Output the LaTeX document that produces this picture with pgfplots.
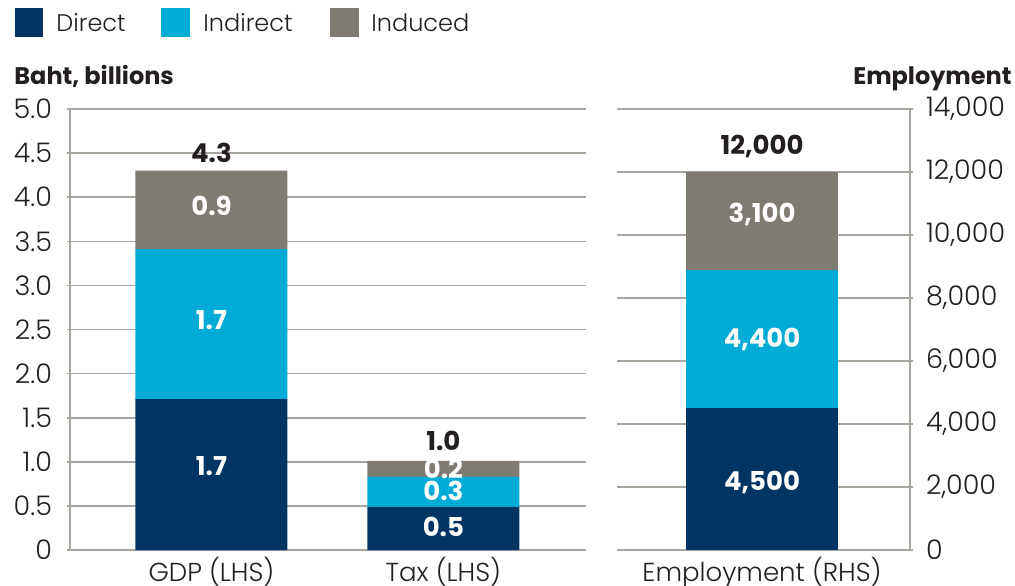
\documentclass[border=0pt]{standalone}
\usepackage{pgfplots}
\pgfplotsset{compat=1.18}
\usepackage{fontspec}
\setmainfont{Poppins}
\newfontfamily\lightfont{Poppins Light}
\definecolor{cdirect}{HTML}{003462}
\definecolor{cindirect}{HTML}{00ABD6}
\definecolor{cinduced}{HTML}{7F7A72}
\definecolor{cgrid}{HTML}{A8A49E}
\definecolor{ctext}{HTML}{231F20}
\tikzset{
  lab/.style={font=\bfseries\fontsize{13}{15}\selectfont, text=white, anchor=center, text depth=0pt, inner sep=0pt},
  tot/.style={font=\bfseries\fontsize{13}{15}\selectfont, text=ctext, anchor=center, text depth=0pt, inner sep=0pt},
}
\begin{document}
\begin{tikzpicture}
\useasboundingbox (0,0) rectangle (507.5pt,292.5pt);
\pgfplotsset{
  common/.style={
    scale only axis,
    height=220.5pt,
    ymin=0,
    ybar stacked,
    bar width=76pt,
    axis x line=bottom,
    ymajorgrids,
    grid style={cgrid,line width=0.8pt},
    tick style={cgrid,line width=0.8pt},
    tick align=outside,
    major tick length=3pt,
    xtick style={draw=none},
    extra x tick style={tick style={draw=cgrid,line width=0.8pt}, major tick length=3.5pt},
    extra x tick labels={},
    ticklabel style={font=\lightfont\fontsize{13.5}{15}\selectfont, text=ctext},
    xticklabel style={font=\lightfont\fontsize{13}{15}\selectfont, text=ctext, anchor=base, yshift=-12.8pt},
    clip=false,
  },
}
% Left axis
\begin{axis}[common,
  at={(35pt,17.5pt)}, anchor=south west,
  width=258pt,
  xmin=-0.61, xmax=1.615,
  ymax=5,
  axis y line=left,
  axis line style={-,cgrid,line width=0.8pt},
  xtick={0,1}, xticklabels={GDP (LHS), Tax (LHS)},
  extra x ticks={-0.61,1.615},
  ytick={0,0.5,...,5},
  yticklabels={0,0.5,1.0,1.5,2.0,2.5,3.0,3.5,4.0,4.5,5.0},
  yticklabel style={anchor=east, xshift=-4pt},
]
\addplot[fill=cdirect, draw=none] coordinates {(0,1.71) (1,0.49)};
\addplot[fill=cindirect, draw=none] coordinates {(0,1.70) (1,0.34)};
\addplot[fill=cinduced, draw=none] coordinates {(0,0.89) (1,0.18)};
\coordinate (g1) at (axis cs:0,0.952);
\coordinate (g2) at (axis cs:0,2.608);
\coordinate (g3) at (axis cs:0,3.90);
\coordinate (g4) at (axis cs:0,4.50);
\coordinate (t1) at (axis cs:1,0.261);
\coordinate (t2) at (axis cs:1,0.669);
\coordinate (t3) at (axis cs:1,0.918);
\coordinate (t4) at (axis cs:1,1.236);
\end{axis}
% Right axis
\begin{axis}[common,
  at={(308.5pt,17.5pt)}, anchor=south west,
  width=146.5pt,
  xmin=-0.99, xmax=1.01,
  ymax=14000,
  axis y line=right,
  axis line style={-,cgrid,line width=0.8pt},
  xtick={0}, xticklabels={Employment (RHS)},
  extra x ticks={-0.99},
  ytick={0,2000,...,14000},
  yticklabels={0,{2,000},{4,000},{6,000},{8,000},{10,000},{12,000},{14,000}},
  yticklabel style={anchor=west, xshift=3pt},
]
\addplot[fill=cdirect, draw=none] coordinates {(0,4500)};
\addplot[fill=cindirect, draw=none] coordinates {(0,4400)};
\addplot[fill=cinduced, draw=none] coordinates {(0,3100)};
\coordinate (e1) at (axis cs:0,2190);
\coordinate (e2) at (axis cs:0,6730);
\coordinate (e3) at (axis cs:0,10698);
\coordinate (e4) at (axis cs:0,12857);
\end{axis}
% Bar labels
\node[lab] at (g1) {1.7};
\node[lab] at (g2) {1.7};
\node[lab] at (g3) {0.9};
\node[tot] at (g4) {4.3};
\node[lab] at (t1) {0.5};
\node[lab] at (t2) {0.3};
\node[lab] at (t3) {0.2};
\node[tot] at (t4) {1.0};
\node[lab] at (e1) {4,500};
\node[lab] at (e2) {4,400};
\node[lab] at (e3) {3,100};
\node[tot] at (e4) {12,000};
% Axis titles
\node[anchor=base west, inner sep=0pt, font=\bfseries\fontsize{12}{14}\selectfont, text=ctext] at (7pt,250.5pt) {Baht, billions};
\node[anchor=base east, inner sep=0pt, font=\bfseries\fontsize{12}{14}\selectfont, text=ctext] at (506pt,250.5pt) {Employment};
% Legend
\fill[cdirect] (7.5pt,274pt) rectangle (21.5pt,288.5pt);
\node[anchor=west, inner sep=0pt, text depth=0pt, font=\lightfont\fontsize{12}{14}\selectfont, text=ctext] at (28pt,281.3pt) {Direct};
\fill[cindirect] (80.5pt,274pt) rectangle (95pt,288.5pt);
\node[anchor=west, inner sep=0pt, text depth=0pt, font=\lightfont\fontsize{12}{14}\selectfont, text=ctext] at (101.5pt,281.3pt) {Indirect};
\fill[cinduced] (165pt,274pt) rectangle (179.5pt,288.5pt);
\node[anchor=west, inner sep=0pt, text depth=0pt, font=\lightfont\fontsize{12}{14}\selectfont, text=ctext] at (185.5pt,281.3pt) {Induced};
\end{tikzpicture}
\end{document}
